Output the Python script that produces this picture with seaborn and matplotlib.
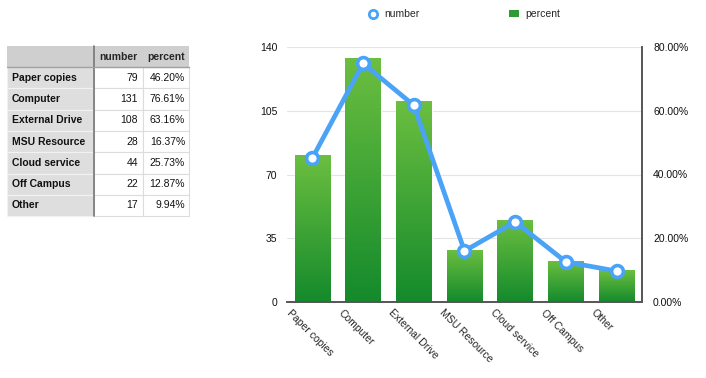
import numpy as np
import pandas as pd
import matplotlib
matplotlib.use("Agg")
import matplotlib.pyplot as plt
import matplotlib.transforms as mtransforms
from matplotlib.colors import LinearSegmentedColormap
from matplotlib.lines import Line2D
from matplotlib.patches import Patch, Rectangle
import seaborn as sns

categories = ["Paper copies", "Computer", "External Drive", "MSU Resource",
              "Cloud service", "Off Campus", "Other"]
number = [79, 131, 108, 28, 44, 22, 17]
percent = [46.20, 76.61, 63.16, 16.37, 25.73, 12.87, 9.94]
left_ticks = [0, 35, 70, 105, 140]
right_ticks = [0, 20, 40, 60, 80]

df = pd.DataFrame({"category": categories, "number": number, "percent": percent})

sns.set_theme(style="white")
plt.rcParams["font.family"] = ["Liberation Sans", "DejaVu Sans"]
plt.rcParams["font.size"] = 7.5

W, H = 706, 378
fig = plt.figure(figsize=(W / 100, H / 100), dpi=100)

# ---- table on the left (pixel coordinates) ----
tab = fig.add_axes([0, 0, 1, 1])
tab.set_xlim(0, W)
tab.set_ylim(H, 0)
tab.axis("off")
col_x = [7, 94, 143, 189]
top, head_h, row_h = 46, 21, 21.3
tab.add_patch(Rectangle((col_x[0], top), col_x[3] - col_x[0], head_h,
                        facecolor="#cfcfcf", edgecolor="none"))
for i, (cat, n, p) in enumerate(zip(categories, number, percent)):
    y0 = top + head_h + i * row_h
    tab.add_patch(Rectangle((col_x[0], y0), col_x[1] - col_x[0], row_h,
                            facecolor="#dedede", edgecolor="#f2f2f2", lw=0.8))
    for c in (1, 2):
        tab.add_patch(Rectangle((col_x[c], y0), col_x[c + 1] - col_x[c], row_h,
                                facecolor="white", edgecolor="#dcdcdc", lw=0.8))
    yc = y0 + row_h / 2
    tab.text(col_x[0] + 5, yc, cat, fontweight="bold", va="center", ha="left", color="#111111")
    tab.text(col_x[2] - 5, yc, str(n), va="center", ha="right", color="#111111")
    tab.text(col_x[3] - 4, yc, f"{p:.2f}%", va="center", ha="right", color="#111111")
tab.text(col_x[2] - 5, top + head_h / 2, "number", fontweight="bold", va="center", ha="right")
tab.text(col_x[3] - 4, top + head_h / 2, "percent", fontweight="bold", va="center", ha="right")
tab.plot([col_x[1], col_x[1]], [top, top + head_h + 7 * row_h], color="#777777", lw=1.2)
tab.plot([col_x[0], col_x[3]], [top + head_h, top + head_h], color="#a0a0a0", lw=1.0)

# ---- chart ----
ax = fig.add_axes([287 / W, 1 - 302 / H, (642 - 287) / W, (302 - 47) / H])
sns.barplot(data=df, x="category", y="percent", ax=ax, width=0.7,
            color="#3a9e35", saturation=1)
ax.set_xlabel("")
ax.set_ylabel("")

# per-bar vertical gradient
cmap = LinearSegmentedColormap.from_list("grn", ["#148a2c", "#6cbf40"])
grad = np.linspace(0, 1, 256).reshape(-1, 1)
for bar in ax.patches:
    x0, w, h = bar.get_x(), bar.get_width(), bar.get_height()
    bar.set_facecolor("none")
    im = ax.imshow(grad, extent=(x0, x0 + w, 0, h), origin="lower", cmap=cmap,
                   aspect="auto", zorder=2)
    im.set_clip_path(bar)
ax.set_xlim(-0.5, len(categories) - 0.5)

ax2 = ax.twinx()
sns.lineplot(data=df, x="category", y="number", ax=ax2, color="#4aa3f7", lw=3.4,
             marker="o", markersize=8.5, markerfacecolor="white",
             markeredgecolor="#4aa3f7", markeredgewidth=2.6, sort=False)
ax2.set_ylim(0, 140)
ax2.set_yticks(left_ticks)
ax2.yaxis.tick_left()
ax2.set_ylabel("")
ax2.set_xlabel("")

# twinx moves the original ticks to the left, so put them back on the right
ax.set_ylim(0, 80)
ax.set_yticks(right_ticks)
ax.set_yticklabels([f"{t:.2f}%" for t in right_ticks])
ax.yaxis.tick_right()

for a in (ax, ax2):
    for s in ("top", "left"):
        a.spines[s].set_visible(False)
    a.spines["bottom"].set_color("#555555")
    a.spines["right"].set_color("#555555")
    a.spines["bottom"].set_linewidth(1.2)
    a.spines["right"].set_linewidth(1.2)
    a.tick_params(axis="y", length=0, colors="#111111", labelsize=7.5)
ax.tick_params(axis="y", pad=8)
ax2.tick_params(axis="y", pad=7)
ax.grid(False)
ax2.grid(False)
for t in right_ticks[1:]:
    ax.axhline(t, color="#e4e4e4", lw=0.8, zorder=0)

ax.tick_params(axis="x", length=0, pad=4)
offset = mtransforms.ScaledTranslation(-0.2, 0, fig.dpi_scale_trans)
for lab in ax.get_xticklabels():
    lab.set_rotation(-45)
    lab.set_rotation_mode("anchor")
    lab.set_ha("left")
    lab.set_va("top")
    lab.set_fontsize(7.5)
    lab.set_transform(lab.get_transform() + offset)

handles = [Line2D([], [], color="#4aa3f7", marker="o", lw=0, markerfacecolor="white",
                  markeredgecolor="#4aa3f7", markeredgewidth=2, markersize=6),
           Patch(facecolor="#2f9a33", edgecolor="none")]
fig.legend(handles, ["number", "percent"], loc="upper center", ncol=2,
           bbox_to_anchor=(464 / W, 1.0), frameon=False, columnspacing=8.6,
           handlelength=1.0, handletextpad=0.6, fontsize=7.5)

fig.savefig("out.png", dpi=100, facecolor="white")
